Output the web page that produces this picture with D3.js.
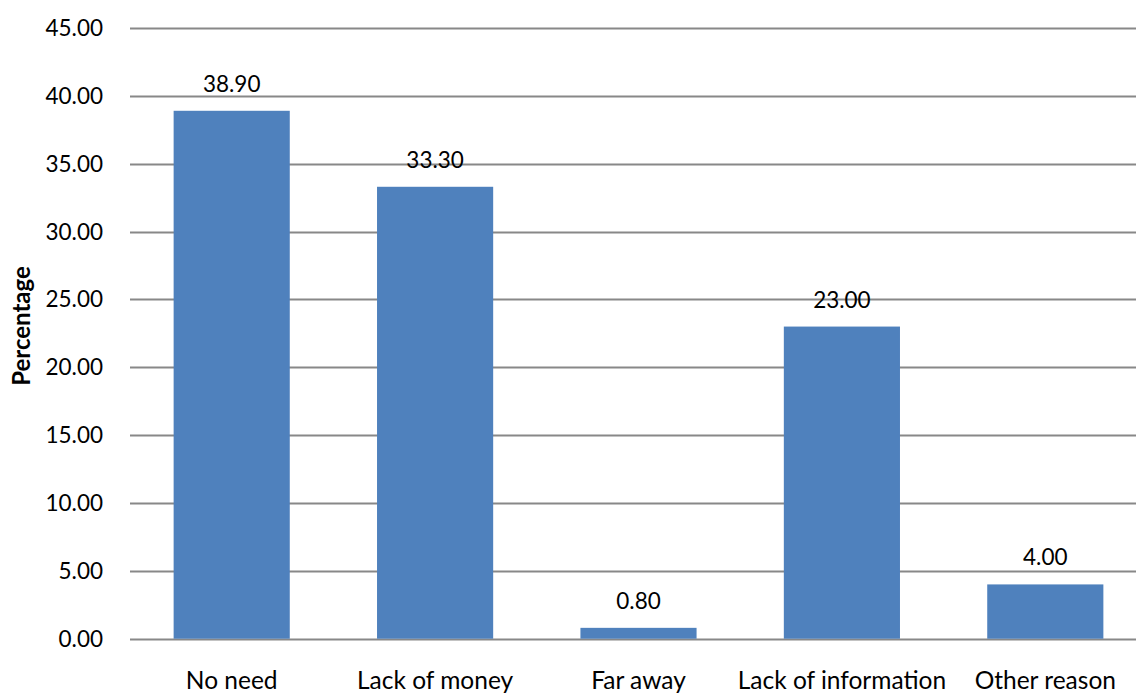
<!DOCTYPE html>
<html>
<head>
<meta charset="utf-8">
<script src="https://cdn.jsdelivr.net/npm/d3@7"></script>
<style>
  body { margin: 0; background: #fff; overflow: hidden; }
  svg { display: block; }
  text { font-family: Lato, "Open Sans", sans-serif; fill: #000; }
</style>
</head>
<body>
<script>
// данные с картинки
var categories = ["No need", "Lack of money", "Far away", "Lack of information", "Other reason"];
var values = [38.90, 33.30, 0.80, 23.00, 4.00];
var tick_values = [0, 5, 10, 15, 20, 25, 30, 35, 40, 45];

var width = 1136, height = 693;

var svg = d3.select("body").append("svg")
    .attr("width", width)
    .attr("height", height);

var x_scale = d3.scaleBand()
    .domain(categories)
    .range([130, 1147])
    .paddingInner(0.429)
    .paddingOuter(0.2145);

var y_scale = d3.scaleLinear()
    .domain([0, 45])
    .range([638.7, 28]);

// сетка
svg.append("g")
    .selectAll("line")
    .data(tick_values)
    .enter()
    .append("line")
    .attr("x1", 130)
    .attr("x2", 1147)
    .attr("y1", function(d) { return Math.round(y_scale(d)) + 0.5; })
    .attr("y2", function(d) { return Math.round(y_scale(d)) + 0.5; })
    .attr("stroke", "#888888")
    .attr("stroke-width", 2);

// подписи оси y
svg.append("g")
    .selectAll("text")
    .data(tick_values)
    .enter()
    .append("text")
    .attr("x", 103)
    .attr("y", function(d) { return y_scale(d) + 8; })
    .attr("text-anchor", "end")
    .style("font-size", "22.5px")
    .text(function(d) { return d3.format(".2f")(d); });

// столбцы
svg.append("g")
    .selectAll("rect")
    .data(values)
    .enter()
    .append("rect")
    .attr("x", function(d, i) { return x_scale(categories[i]); })
    .attr("width", x_scale.bandwidth())
    .attr("y", function(d) { return y_scale(d); })
    .attr("height", function(d) { return y_scale(0) - y_scale(d); })
    .attr("fill", "#4F81BD");

// значения над столбцами
svg.append("g")
    .selectAll("text")
    .data(values)
    .enter()
    .append("text")
    .attr("x", function(d, i) { return x_scale(categories[i]) + x_scale.bandwidth() / 2; })
    .attr("y", function(d) { return y_scale(d) - 19; })
    .attr("text-anchor", "middle")
    .style("font-size", "22.5px")
    .text(function(d) { return d3.format(".2f")(d); });

// категории
svg.append("g")
    .selectAll("text")
    .data(categories)
    .enter()
    .append("text")
    .attr("x", function(d) { return x_scale(d) + x_scale.bandwidth() / 2; })
    .attr("y", 689)
    .attr("text-anchor", "middle")
    .style("font-size", "24.5px")
    .text(function(d) { return d; });

// подпись оси
svg.append("text")
    .attr("transform", "translate(30,326) rotate(-90)")
    .attr("text-anchor", "middle")
    .style("font-size", "24px")
    .style("font-weight", "bold")
    .text("Percentage");
</script>
</body>
</html>
